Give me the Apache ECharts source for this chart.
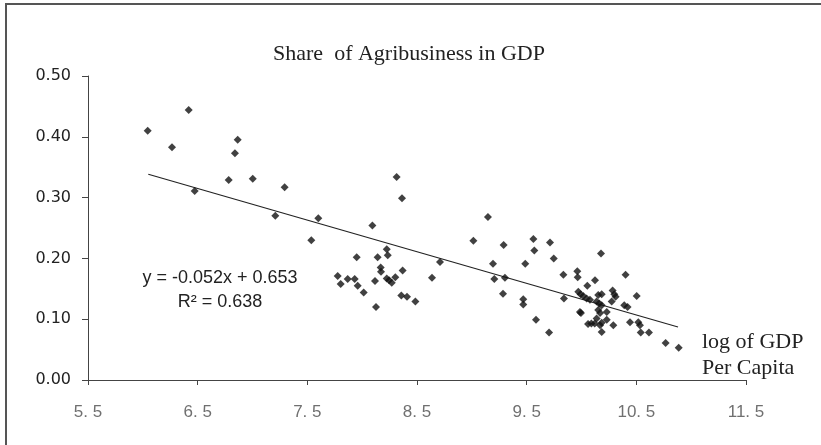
<!DOCTYPE html>
<html>
<head>
<meta charset="utf-8">
<script src="https://cdn.jsdelivr.net/npm/echarts@6/dist/echarts.min.js"></script>
<style>html,body{margin:0;padding:0;background:#fff}#c{width:821px;height:445px}</style>
</head>
<body>
<div id="c"></div>
<script>
var xTicks = [5.5, 6.5, 7.5, 8.5, 9.5, 10.5, 11.5];
var yTicks = [0, 0.1, 0.2, 0.3, 0.4, 0.5];
var logGdp = [6.044,6.266,6.418,6.473,6.783,6.840,6.865,7.002,7.208,7.293,7.536,7.600,
7.777,7.804,7.868,7.932,7.950,7.959,8.014,8.093,8.117,8.126,8.141,8.169,8.172,8.224,8.233,8.224,8.245,8.270,8.302,8.314,8.363,8.369,8.357,8.409,8.485,8.637,8.710,
9.014,9.147,9.193,9.205,9.284,9.290,9.302,9.469,9.469,9.487,9.561,9.570,9.585,9.704,9.713,9.747,9.835,9.840,
9.962,9.965,10.053,10.123,10.178,10.402,9.971,9.992,10.016,10.047,10.077,10.153,10.184,10.284,10.299,10.311,10.503,10.138,10.161,10.184,10.275,10.390,10.420,9.986,9.995,10.153,10.169,10.230,10.138,10.120,10.060,10.090,10.230,10.184,10.169,10.290,10.442,10.518,10.533,10.184,10.540,10.615,10.767,10.886];
var agriShare = [0.410,0.383,0.444,0.311,0.329,0.373,0.395,0.331,0.270,0.317,0.230,0.266,
0.171,0.158,0.166,0.166,0.202,0.155,0.144,0.254,0.163,0.120,0.202,0.185,0.178,0.215,0.205,0.167,0.164,0.160,0.169,0.334,0.299,0.180,0.139,0.137,0.129,0.168,0.194,
0.229,0.268,0.191,0.166,0.142,0.222,0.168,0.133,0.124,0.191,0.232,0.213,0.099,0.078,0.226,0.200,0.173,0.134,
0.179,0.169,0.155,0.164,0.208,0.173,0.145,0.141,0.138,0.134,0.132,0.140,0.141,0.147,0.141,0.137,0.138,0.129,0.126,0.123,0.129,0.123,0.120,0.112,0.110,0.115,0.110,0.112,0.101,0.093,0.092,0.093,0.099,0.094,0.090,0.090,0.095,0.095,0.090,0.079,0.078,0.078,0.061,0.053];
var slope = -0.052, intercept = 0.653;
var trendX = [6.05, 10.88];

var points = logGdp.map(function (x, i) { return [x, agriShare[i]]; });
var trend = trendX.map(function (x) { return [x, intercept + slope * x]; });

var chart = echarts.init(document.getElementById('c'));
chart.setOption({
  animation: false,
  backgroundColor: '#fff',
  title: {
    text: 'Share  of Agribusiness in GDP',
    left: 404, top: 38, textAlign: 'center',
    textStyle: { fontFamily: 'Liberation Serif', fontSize: 22, fontWeight: 'normal', color: '#222' }
  },
  grid: { left: 88, right: 75, top: 76, bottom: 65, containLabel: false },
  xAxis: {
    type: 'value', min: xTicks[0], max: xTicks[xTicks.length - 1], interval: 1,
    splitLine: { show: false },
    axisLine: { lineStyle: { color: '#444', width: 1 } },
    axisTick: { show: true, inside: false, length: 5, lineStyle: { color: '#444' } },
    axisLabel: {
      margin: 24, color: '#707070', fontFamily: 'Liberation Sans', fontSize: 17,
      formatter: function (v) { return v.toFixed(1).replace('.', '. '); }
    }
  },
  yAxis: {
    type: 'value', min: yTicks[0], max: yTicks[yTicks.length - 1], interval: 0.1,
    splitLine: { show: false },
    axisLine: { show: true, lineStyle: { color: '#444', width: 1 } },
    axisTick: { show: true, inside: false, length: 6, lineStyle: { color: '#444' } },
    axisLabel: {
      margin: 17, color: '#222', fontFamily: 'DejaVu Sans', fontSize: 16,
      formatter: function (v) { return v.toFixed(2); }
    }
  },
  series: [
    {
      type: 'scatter', data: points, symbol: 'diamond', symbolSize: 8,
      itemStyle: { color: '#111' }, z: 3
    },
    {
      type: 'line', data: trend, symbol: 'none',
      lineStyle: { color: '#222', width: 1.2 }, z: 2
    }
  ],
  graphic: [
    { type: 'rect', shape: { x: 6, y: 4, width: 900, height: 600 },
      style: { fill: 'none', stroke: '#555', lineWidth: 2 }, silent: true },
    { type: 'text', x: 220, y: 269,
      style: { text: 'y = -0.052x + 0.653', align: 'center', fontFamily: 'Liberation Sans', fontSize: 18, fill: '#222' } },
    { type: 'text', x: 220, y: 293,
      style: { text: 'R² = 0.638', align: 'center', fontFamily: 'Liberation Sans', fontSize: 18, fill: '#222' } },
    { type: 'text', x: 702, y: 331,
      style: { text: 'log of GDP', fontFamily: 'Liberation Serif', fontSize: 22, fill: '#222' } },
    { type: 'text', x: 702, y: 357,
      style: { text: 'Per Capita', fontFamily: 'Liberation Serif', fontSize: 22, fill: '#222' } }
  ]
});
</script>
</body>
</html>
